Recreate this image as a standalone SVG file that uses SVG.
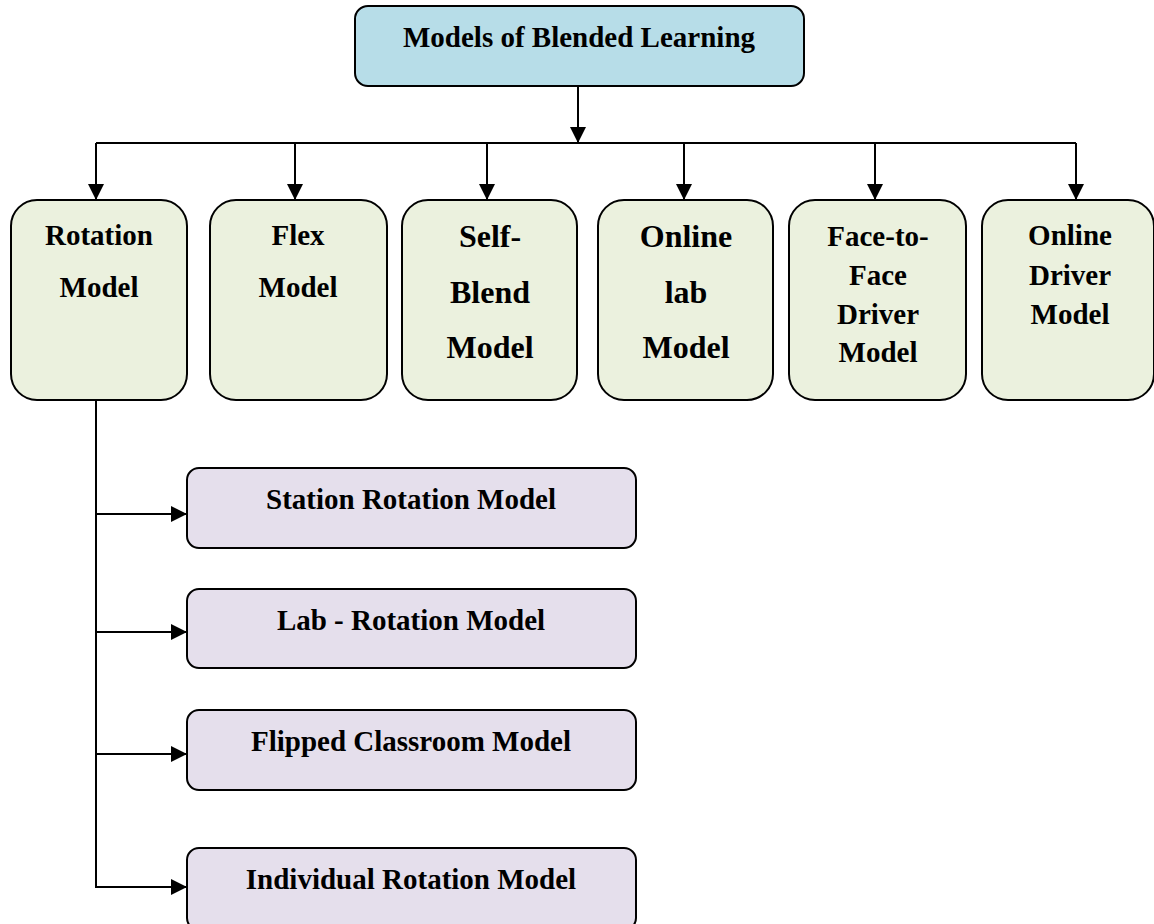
<svg xmlns="http://www.w3.org/2000/svg" width="1154" height="924" viewBox="0 0 1154 924">
<style>
.box{stroke:#000;stroke-width:2}
.top{fill:#b7dde8}
.grn{fill:#ebf1de}
.pur{fill:#e5dfec}
text{font-family:"Liberation Serif","Times New Roman",serif;font-weight:bold;fill:#000;text-anchor:middle}
.t29{font-size:29px}
.t32{font-size:32px}
.con{stroke:#000;stroke-width:2;fill:none}
</style>
<defs>
<marker id="arr" markerWidth="10" markerHeight="10" refX="9" refY="5" orient="auto" markerUnits="userSpaceOnUse" viewBox="0 0 10 10">
<path d="M0,0 L10,5 L0,10 Z" fill="#000"/>
</marker>
<marker id="arrL" markerWidth="16" markerHeight="16" refX="16" refY="8" orient="auto" markerUnits="userSpaceOnUse" viewBox="0 0 16 16">
<path d="M0,0 L16,8 L0,16 Z" fill="#000"/>
</marker>
</defs>
<rect width="1154" height="924" fill="#fff"/>
<g id="connectors">
<line class="con" x1="578" y1="86" x2="578" y2="143" marker-end="url(#arrL)"/>
<line class="con" x1="96" y1="143" x2="1076" y2="143"/>
<line class="con" x1="96" y1="143" x2="96" y2="200" marker-end="url(#arrL)"/>
<line class="con" x1="295" y1="143" x2="295" y2="200" marker-end="url(#arrL)"/>
<line class="con" x1="487" y1="143" x2="487" y2="200" marker-end="url(#arrL)"/>
<line class="con" x1="684" y1="143" x2="684" y2="200" marker-end="url(#arrL)"/>
<line class="con" x1="875" y1="143" x2="875" y2="200" marker-end="url(#arrL)"/>
<line class="con" x1="1076" y1="143" x2="1076" y2="200" marker-end="url(#arrL)"/>
<line class="con" x1="96" y1="400" x2="96" y2="888"/>
<line class="con" x1="95" y1="514" x2="187" y2="514" marker-end="url(#arrL)"/>
<line class="con" x1="95" y1="632" x2="187" y2="632" marker-end="url(#arrL)"/>
<line class="con" x1="95" y1="754" x2="187" y2="754" marker-end="url(#arrL)"/>
<line class="con" x1="95" y1="887" x2="187" y2="887" marker-end="url(#arrL)"/>
</g>
<g id="top">
<rect class="box top" x="355" y="6" width="449" height="80" rx="13"/>
<text class="t29" x="579" y="47">Models of Blended Learning</text>
</g>
<g id="rotation">
<rect class="box grn" x="11" y="200" width="176" height="200" rx="26"/>
<text class="t29" x="99" y="245">Rotation</text>
<text class="t29" x="99" y="297">Model</text>
</g>
<g id="flex">
<rect class="box grn" x="210" y="200" width="177" height="200" rx="26"/>
<text class="t29" x="298" y="245">Flex</text>
<text class="t29" x="298" y="297">Model</text>
</g>
<g id="selfblend">
<rect class="box grn" x="402" y="200" width="175" height="200" rx="26"/>
<text class="t32" x="490" y="247">Self-</text>
<text class="t32" x="490" y="303">Blend</text>
<text class="t32" x="490" y="358">Model</text>
</g>
<g id="onlinelab">
<rect class="box grn" x="598" y="200" width="175" height="200" rx="26"/>
<text class="t32" x="686" y="247">Online</text>
<text class="t32" x="686" y="303">lab</text>
<text class="t32" x="686" y="358">Model</text>
</g>
<g id="facetoface">
<rect class="box grn" x="789" y="200" width="177" height="200" rx="26"/>
<text class="t29" x="878" y="246">Face-to-</text>
<text class="t29" x="878" y="285">Face</text>
<text class="t29" x="878" y="324">Driver</text>
<text class="t29" x="878" y="362">Model</text>
</g>
<g id="onlinedriver">
<rect class="box grn" x="982" y="200" width="172" height="200" rx="26"/>
<text class="t29" x="1070" y="245">Online</text>
<text class="t29" x="1070" y="285">Driver</text>
<text class="t29" x="1070" y="324">Model</text>
</g>
<g id="station">
<rect class="box pur" x="187" y="468" width="449" height="80" rx="12"/>
<text class="t29" x="411" y="509">Station Rotation Model</text>
</g>
<g id="lab">
<rect class="box pur" x="187" y="589" width="449" height="79" rx="12"/>
<text class="t29" x="411" y="630">Lab - Rotation Model</text>
</g>
<g id="flipped">
<rect class="box pur" x="187" y="710" width="449" height="80" rx="12"/>
<text class="t29" x="411" y="751">Flipped Classroom Model</text>
</g>
<g id="individual">
<rect class="box pur" x="187" y="848" width="449" height="82" rx="12"/>
<text class="t29" x="411" y="889">Individual Rotation Model</text>
</g>
</svg>
